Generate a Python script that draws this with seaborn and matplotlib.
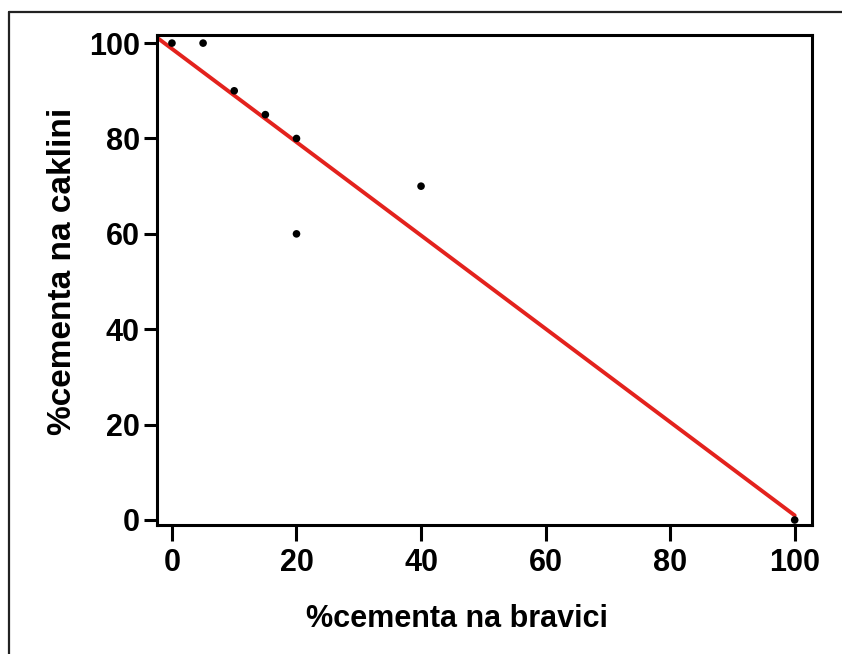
import numpy as np
import pandas as pd
import matplotlib
matplotlib.use("Agg")
import matplotlib.pyplot as plt
from matplotlib.lines import Line2D
import seaborn as sns

# Data
cement_bravici = [0, 5, 10, 15, 20, 20, 40, 100]
cement_caklini = [100, 100, 90, 85, 80, 60, 70, 0]
x_ticks = [0, 20, 40, 60, 80, 100]
y_ticks = [0, 20, 40, 60, 80, 100]
x_label = "%cementa na bravici"
y_label = "%cementa na caklini"

df = pd.DataFrame({"x": cement_bravici, "y": cement_caklini})

sns.set_theme(style="white")
plt.rcParams["font.family"] = ["Liberation Sans", "DejaVu Sans"]
plt.rcParams["font.weight"] = "bold"
plt.rcParams["text.color"] = "black"
plt.rcParams["axes.labelcolor"] = "black"
plt.rcParams["xtick.color"] = "black"
plt.rcParams["ytick.color"] = "black"

fig = plt.figure(figsize=(8.42, 6.54), dpi=100)
W, H = 842, 654
ax = fig.add_axes([157 / W, 1 - 525 / H, (811.5 - 157) / W, (525 - 35) / H])

xlim = (-2.4, 102.7)
ylim = (-1.05, 101.7)
ax.set_xlim(*xlim)
ax.set_ylim(*ylim)

# fitted line
slope, intercept = np.polyfit(df["x"], df["y"], 1)
fit = pd.DataFrame({"x": [xlim[0], max(cement_bravici)]})
fit["y"] = intercept + slope * fit["x"]
sns.lineplot(data=fit, x="x", y="y", color="#e3221d", linewidth=2.8, ax=ax, zorder=2)

sns.scatterplot(data=df, x="x", y="y", color="black", s=30, edgecolor="none", ax=ax, zorder=3)

ax.set_xticks(x_ticks)
ax.set_yticks(y_ticks)
ax.tick_params(axis="x", direction="out", length=11.5, width=2.2, color="black",
               labelsize=22, pad=5, bottom=True)
ax.tick_params(axis="y", direction="out", length=9.5, width=2.2, color="black",
               labelsize=22, pad=3, left=True)
for lab in ax.get_xticklabels() + ax.get_yticklabels():
    lab.set_fontweight("bold")
for sp in ax.spines.values():
    sp.set_linewidth(2.2)
    sp.set_color("black")
ax.set_xlabel(x_label, fontsize=22, fontweight="bold", labelpad=19)
ax.set_ylabel(y_label, fontsize=24, fontweight="bold", labelpad=8)
ax.xaxis.label.set_x(0.458)
ax.yaxis.label.set_y(0.518)

# outer frame (left and top edges visible)
fig.add_artist(Line2D([9 / W, 9 / W], [0, 1 - 12 / H], transform=fig.transFigure,
                      color="#222222", linewidth=1.6))
fig.add_artist(Line2D([9 / W, 1], [1 - 12 / H, 1 - 12 / H], transform=fig.transFigure,
                      color="#222222", linewidth=1.6))

fig.savefig("out.png", dpi=100)
